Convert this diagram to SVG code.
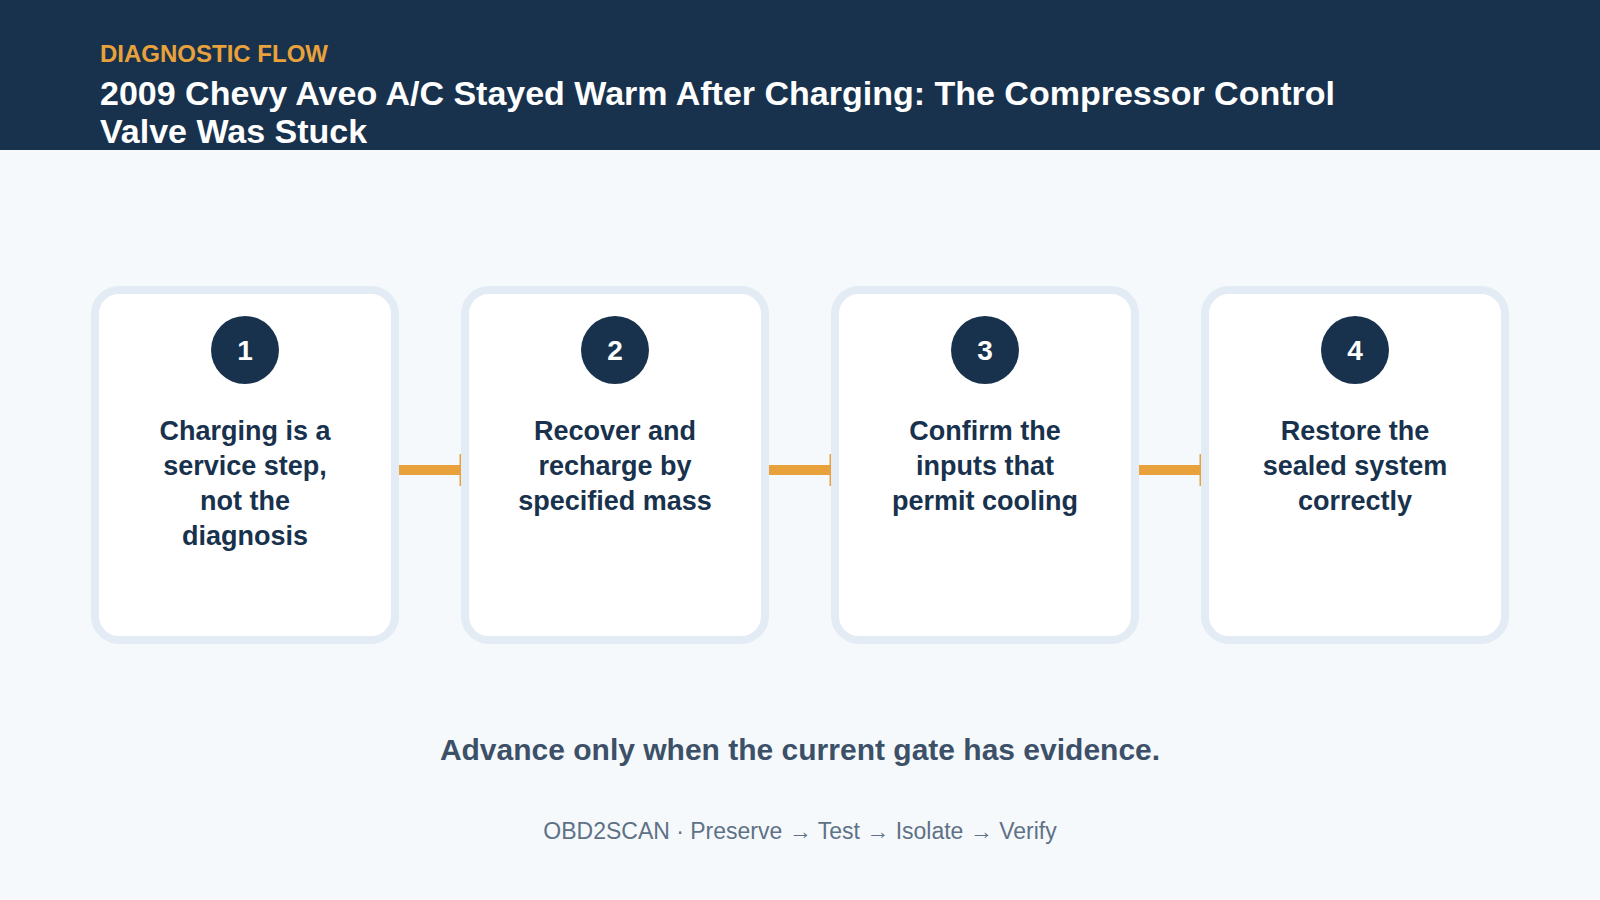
<svg xmlns="http://www.w3.org/2000/svg" width="1600" height="900" viewBox="0 0 1600 900">
  <style>
    .card { fill: #ffffff; stroke: #e3ebf4; stroke-width: 8; }
    .badge { fill: #18324d; }
    .num { font-family: "Liberation Sans", Arial, sans-serif; font-weight: bold; font-size: 28px; fill: #ffffff; text-anchor: middle; }
    .label { font-family: "Liberation Sans", Arial, sans-serif; font-weight: bold; font-size: 27px; fill: #18324d; text-anchor: middle; }
    .conn { stroke: #e9a23b; stroke-width: 10; fill: none; }
    .tick { fill: #e9a23b; }
  </style>
  <rect x="0" y="0" width="1600" height="900" fill="#f5f9fc"/>
  <g id="header">
    <rect x="0" y="0" width="1600" height="150" fill="#18324d"/>
    <text x="100" y="62" font-family="Liberation Sans, Arial, sans-serif" font-weight="bold" font-size="24" fill="#e9a23b">DIAGNOSTIC FLOW</text>
    <text font-family="Liberation Sans, Arial, sans-serif" font-weight="bold" font-size="34" fill="#ffffff">
      <tspan x="100" y="105">2009 Chevy Aveo A/C Stayed Warm After Charging: The Compressor Control</tspan>
      <tspan x="100" y="143">Valve Was Stuck</tspan>
    </text>
  </g>
  <g id="connectors">
    <line class="conn" x1="399" y1="470" x2="461" y2="470"/>
    <rect class="tick" x="459.5" y="454" width="1.5" height="32"/>
    <line class="conn" x1="769" y1="470" x2="831" y2="470"/>
    <rect class="tick" x="829.5" y="454" width="1.5" height="32"/>
    <line class="conn" x1="1139" y1="470" x2="1201" y2="470"/>
    <rect class="tick" x="1199.5" y="454" width="1.5" height="32"/>
  </g>
  <g id="step1">
    <rect class="card" x="95" y="290" width="300" height="350" rx="24"/>
    <circle class="badge" cx="245" cy="350" r="34"/>
    <text class="num" x="245" y="360">1</text>
    <text class="label"><tspan x="245" y="440">Charging is a</tspan><tspan x="245" y="475">service step,</tspan><tspan x="245" y="510">not the</tspan><tspan x="245" y="545">diagnosis</tspan></text>
  </g>
  <g id="step2">
    <rect class="card" x="465" y="290" width="300" height="350" rx="24"/>
    <circle class="badge" cx="615" cy="350" r="34"/>
    <text class="num" x="615" y="360">2</text>
    <text class="label"><tspan x="615" y="440">Recover and</tspan><tspan x="615" y="475">recharge by</tspan><tspan x="615" y="510">specified mass</tspan></text>
  </g>
  <g id="step3">
    <rect class="card" x="835" y="290" width="300" height="350" rx="24"/>
    <circle class="badge" cx="985" cy="350" r="34"/>
    <text class="num" x="985" y="360">3</text>
    <text class="label"><tspan x="985" y="440">Confirm the</tspan><tspan x="985" y="475">inputs that</tspan><tspan x="985" y="510">permit cooling</tspan></text>
  </g>
  <g id="step4">
    <rect class="card" x="1205" y="290" width="300" height="350" rx="24"/>
    <circle class="badge" cx="1355" cy="350" r="34"/>
    <text class="num" x="1355" y="360">4</text>
    <text class="label"><tspan x="1355" y="440">Restore the</tspan><tspan x="1355" y="475">sealed system</tspan><tspan x="1355" y="510">correctly</tspan></text>
  </g>
  <g id="footer">
    <text x="800" y="760" text-anchor="middle" font-family="Liberation Sans, Arial, sans-serif" font-weight="bold" font-size="30" fill="#3c5068">Advance only when the current gate has evidence.</text>
    <text x="800" y="839" text-anchor="middle" font-family="Liberation Sans, Arial, sans-serif" font-size="23" fill="#5f7186">OBD2SCAN · Preserve → Test → Isolate → Verify</text>
  </g>
</svg>
